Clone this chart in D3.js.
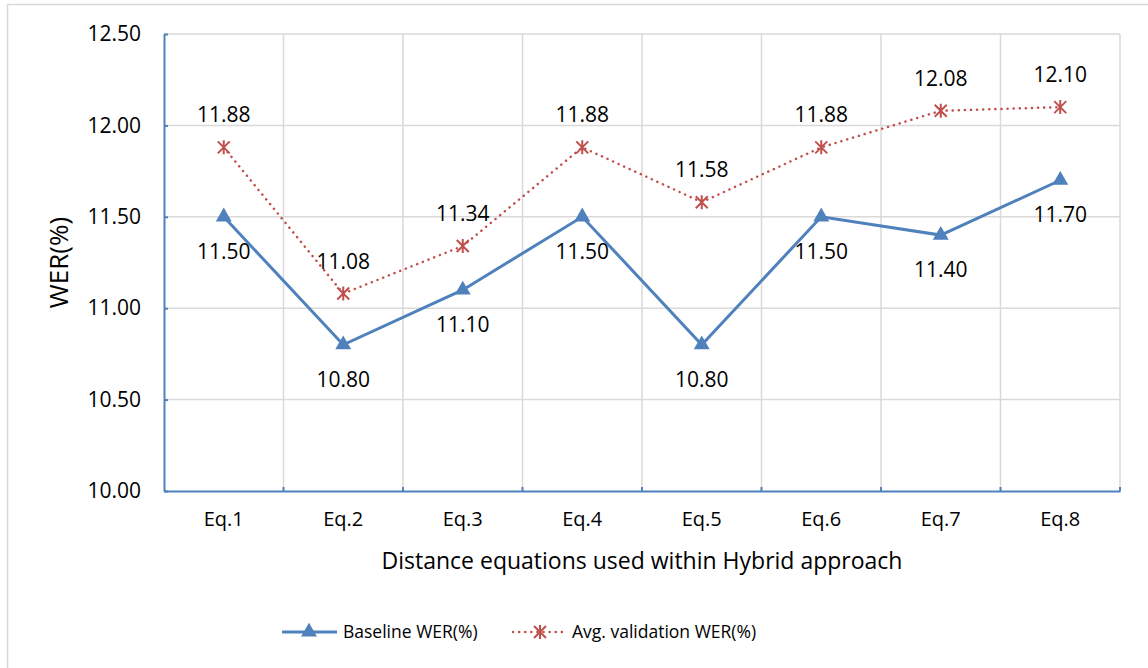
<!DOCTYPE html>
<html>
<head>
<meta charset="utf-8">
<script src="https://cdn.jsdelivr.net/npm/d3@7"></script>
<style>
  body { margin: 0; background: #fff; }
  text { font-family: "Open Sans", sans-serif; fill: #000; }
</style>
</head>
<body>
<div id="chart"></div>
<script>
const categories = ['Eq.1', 'Eq.2', 'Eq.3', 'Eq.4', 'Eq.5', 'Eq.6', 'Eq.7', 'Eq.8'];
const baseline = [11.50, 10.80, 11.10, 11.50, 10.80, 11.50, 11.40, 11.70];
const avgValidation = [11.88, 11.08, 11.34, 11.88, 11.58, 11.88, 12.08, 12.10];
const yTicks = [10.00, 10.50, 11.00, 11.50, 12.00, 12.50];

const width = 1148, height = 668;
const margin = {top: 34, right: 28, bottom: 177, left: 164};
const blue = '#4f81bd', red = '#c0504d', grid = '#d9d9d9';

const svg = d3.select('#chart').append('svg')
    .attr('width', width)
    .attr('height', height);

// outer chart frame
svg.append('rect')
  .attr('x', 7.5).attr('y', 4.5)
  .attr('width', width).attr('height', height)
  .attr('fill', 'none')
  .attr('stroke', '#d9d9d9')
  .attr('stroke-width', 1.5);

const x = d3.scaleBand()
    .domain(categories)
    .range([margin.left, width - margin.right]);

const y = d3.scaleLinear()
    .domain([10, 12.5])
    .range([height - margin.bottom, margin.top]);

// gridlines
svg.append('g')
  .selectAll('line')
  .data(yTicks.slice(1))
  .join('line')
    .attr('x1', margin.left).attr('x2', width - margin.right)
    .attr('y1', d => y(d)).attr('y2', d => y(d))
    .attr('stroke', grid).attr('stroke-width', 1.5);

svg.append('g')
  .selectAll('line')
  .data(categories)
  .join('line')
    .attr('x1', d => x(d) + x.bandwidth()).attr('x2', d => x(d) + x.bandwidth())
    .attr('y1', margin.top).attr('y2', height - margin.bottom)
    .attr('stroke', grid).attr('stroke-width', 1.5);

// axes
const yAxis = svg.append('g')
  .attr('transform', `translate(${margin.left},0)`)
  .call(d3.axisLeft(y).tickValues(yTicks).tickFormat(d3.format('.2f')).tickSizeInner(-4).tickSizeOuter(0).tickPadding(23));
yAxis.select('.domain').attr('stroke', blue).attr('stroke-width', 2);
yAxis.selectAll('.tick line').attr('stroke', blue).attr('stroke-width', 2);
yAxis.selectAll('.tick text').attr('font-size', 21).attr('fill', '#000');

const xAxis = svg.append('g')
  .attr('transform', `translate(0,${height - margin.bottom})`)
  .call(d3.axisBottom(x).tickSize(0).tickPadding(21));
xAxis.select('.domain').attr('stroke', blue).attr('stroke-width', 2);
xAxis.selectAll('.tick text').attr('font-size', 20).attr('fill', '#000');

xAxis.selectAll('.edge')
  .data(categories)
  .join('line')
    .attr('x1', d => x(d) + x.bandwidth()).attr('x2', d => x(d) + x.bandwidth())
    .attr('y1', 0).attr('y2', -4)
    .attr('stroke', blue).attr('stroke-width', 2);

// axis titles
svg.append('text')
  .attr('x', (margin.left + width - margin.right) / 2)
  .attr('y', 569)
  .attr('text-anchor', 'middle')
  .attr('font-size', 23)
  .text('Distance equations used within Hybrid approach');

svg.append('text')
  .attr('transform', `translate(68,${(margin.top + height - margin.bottom) / 2}) rotate(-90)`)
  .attr('text-anchor', 'middle')
  .attr('font-size', 26)
  .text('WER(%)');

const cx = d => x(d) + x.bandwidth() / 2;
const line = d3.line().x(d => cx(d[0])).y(d => y(d[1]));

const avgData = categories.map((c, i) => [c, avgValidation[i]]);
const baseData = categories.map((c, i) => [c, baseline[i]]);

svg.append('path')
  .datum(avgData)
  .attr('d', line)
  .attr('fill', 'none')
  .attr('stroke', red)
  .attr('stroke-width', 2.5)
  .attr('stroke-linecap', 'round')
  .attr('stroke-dasharray', '0.1,6');

svg.append('path')
  .datum(baseData)
  .attr('d', line)
  .attr('fill', 'none')
  .attr('stroke', blue)
  .attr('stroke-width', 3);

const triangle = d3.symbol().type(d3.symbolTriangle).size(110);
const star = 'M-6,-6L6,6M6,-6L-6,6M0,-7L0,7';

function drawStar(g) {
  g.append('path').attr('d', star).attr('stroke', red).attr('stroke-width', 2).attr('fill', 'none');
}

svg.append('g')
  .selectAll('g')
  .data(avgData)
  .join('g')
    .attr('transform', d => `translate(${cx(d[0])},${y(d[1])})`)
    .call(drawStar);

svg.append('g')
  .selectAll('path')
  .data(baseData)
  .join('path')
    .attr('d', triangle)
    .attr('transform', d => `translate(${cx(d[0])},${y(d[1])})`)
    .attr('fill', blue);

// data labels
svg.append('g')
  .selectAll('text')
  .data(avgData)
  .join('text')
    .attr('x', d => cx(d[0]))
    .attr('y', d => y(d[1]) - 25)
    .attr('text-anchor', 'middle')
    .attr('font-size', 21)
    .text(d => d[1].toFixed(2));

svg.append('g')
  .selectAll('text')
  .data(baseData)
  .join('text')
    .attr('x', d => cx(d[0]))
    .attr('y', d => y(d[1]) + 42)
    .attr('text-anchor', 'middle')
    .attr('font-size', 21)
    .text(d => d[1].toFixed(2));

// legend
const legend = svg.append('g').attr('transform', 'translate(0,632)');
legend.append('line')
  .attr('x1', 282).attr('x2', 337).attr('y1', 0).attr('y2', 0)
  .attr('stroke', blue).attr('stroke-width', 3);
legend.append('path')
  .attr('d', triangle)
  .attr('transform', 'translate(309,0)')
  .attr('fill', blue);
legend.append('text')
  .attr('x', 343).attr('y', 0).attr('dy', '0.35em')
  .attr('font-size', 17.5)
  .text('Baseline WER(%)');

legend.append('line')
  .attr('x1', 513).attr('x2', 566).attr('y1', 0).attr('y2', 0)
  .attr('stroke', red).attr('stroke-width', 2.5)
  .attr('stroke-linecap', 'round')
  .attr('stroke-dasharray', '0.1,6');
legend.append('g').attr('transform', 'translate(540,0)').call(drawStar);
legend.append('text')
  .attr('x', 572).attr('y', 0).attr('dy', '0.35em')
  .attr('font-size', 17.5)
  .text('Avg. validation WER(%)');
</script>
</body>
</html>
